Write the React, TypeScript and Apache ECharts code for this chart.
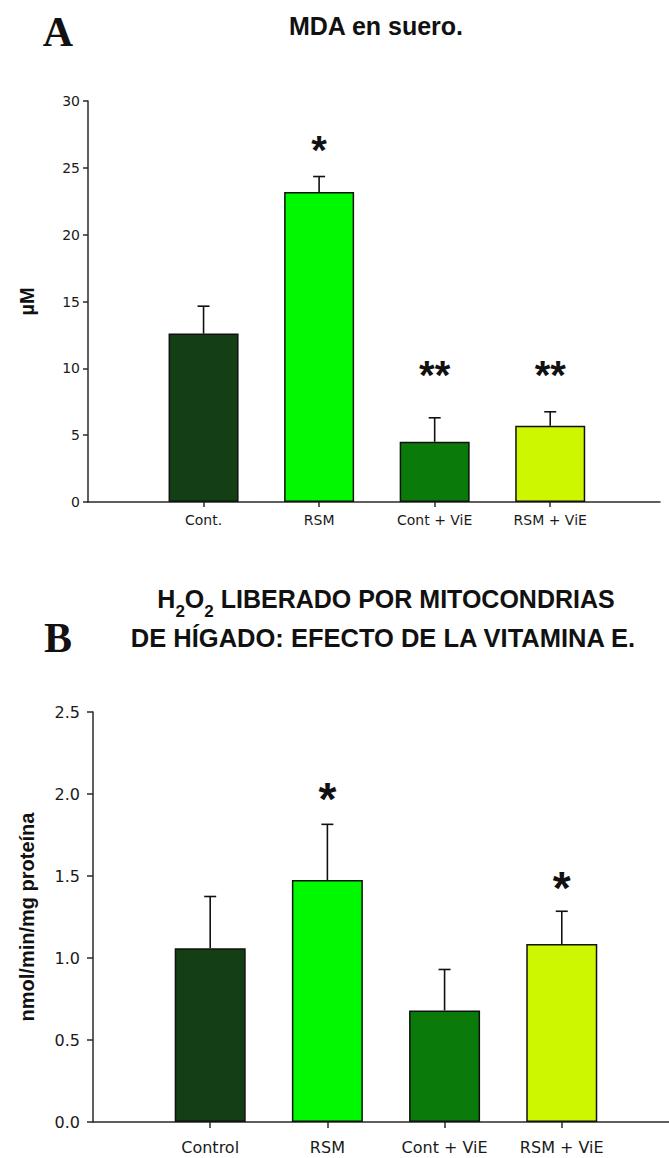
import React, { useEffect, useRef } from "react";
import * as echarts from "echarts";

// Panel A: MDA en suero (µM)
const catsA = ["Cont.", "RSM", "Cont + ViE", "RSM + ViE"];
const meanA = [12.6, 23.2, 4.5, 5.7];
const semA = [2.05, 1.15, 1.8, 1.05];
const starTextA = ["", "*", "**", "**"];
const starYA = [null, 26.7, 9.8, 9.8];
const ticksA = [0, 5, 10, 15, 20, 25, 30];

// Panel B: H2O2 liberado por mitocondrias de hígado
const catsB = ["Control", "RSM", "Cont + ViE", "RSM + ViE"];
const meanB = [1.06, 1.475, 0.68, 1.085];
const semB = [0.315, 0.34, 0.25, 0.2];
const starTextB = ["", "*", "", "*"];
const starYB = [null, 2.0, null, 1.46];
const ticksB = [0, 0.5, 1.0, 1.5, 2.0, 2.5];

const barColors = ["#143f14", "#00f800", "#0a7a0a", "#cdf700"];
const positions = [1, 2, 3, 4];

const labelFont = "DejaVu Sans";
const titleFont = "Liberation Sans, Arial, sans-serif";

function buildPanel(
  gridIndex: number,
  mean: number[],
  sem: number[],
  starText: string[],
  starY: (number | null)[],
  starSize: number
) {
  const bar = {
    type: "bar",
    xAxisIndex: gridIndex,
    yAxisIndex: gridIndex,
    barWidth: gridIndex === 0 ? 70 : 71,
    data: positions.map((p, i) => ({
      value: [p, mean[i]],
      itemStyle: { color: barColors[i], borderColor: "#111", borderWidth: 1.5 },
    })),
    z: 2,
  };
  const errors = {
    type: "custom",
    xAxisIndex: gridIndex,
    yAxisIndex: gridIndex,
    data: positions.map((p, i) => [p, mean[i], sem[i]]),
    z: 3,
    renderItem: (_params: any, api: any) => {
      const x = api.value(0);
      const v = api.value(1);
      const e = api.value(2);
      const p0 = api.coord([x, v]);
      const p1 = api.coord([x, v + e]);
      const st = { stroke: "#111", lineWidth: 1.6 };
      return {
        type: "group",
        children: [
          { type: "line", shape: { x1: p0[0], y1: p0[1], x2: p1[0], y2: p1[1] }, style: st },
          { type: "line", shape: { x1: p1[0] - 6, y1: p1[1], x2: p1[0] + 6, y2: p1[1] }, style: st },
        ],
      };
    },
  };
  const stars = {
    type: "custom",
    xAxisIndex: gridIndex,
    yAxisIndex: gridIndex,
    data: positions
      .map((p, i) => [p, starY[i], i])
      .filter((d) => d[1] !== null && starText[d[2] as number] !== ""),
    z: 4,
    renderItem: (_params: any, api: any) => {
      const pt = api.coord([api.value(0), api.value(1)]);
      const idx = api.value(2);
      return {
        type: "text",
        x: pt[0],
        y: pt[1] + starSize * 0.11,
        style: {
          text: starText[idx],
          fill: "#111",
          fontSize: starSize,
          fontWeight: "bold",
          fontFamily: titleFont,
          align: "center",
          verticalAlign: "middle",
          textAlign: "center",
          textVerticalAlign: "middle",
        },
      };
    },
  };
  return [bar, errors, stars];
}

export default function App() {
  const ref = useRef<HTMLDivElement>(null);

  useEffect(() => {
    if (!ref.current) return;
    const chart = echarts.init(ref.current, null, { renderer: "svg" });

    const axisLine = { show: true, lineStyle: { color: "#2a2a2a", width: 1.5 } };
    const axisTick = (len: number) => ({
      show: true,
      length: len,
      inside: false,
      lineStyle: { color: "#2a2a2a", width: 1.5 },
    });

    const option: any = {
      animation: false,
      backgroundColor: "#ffffff",
      grid: [
        { left: 88, top: 101, width: 572, height: 401 },
        { left: 93, top: 712, width: 576, height: 410 },
      ],
      xAxis: [
        {
          gridIndex: 0,
          type: "value",
          min: 0,
          max: 4.95,
          splitLine: { show: false },
          axisLine,
          axisTick: { ...axisTick(5), customValues: positions },
          axisLabel: {
            customValues: positions,
            formatter: (v: number) => catsA[Math.round(v) - 1] ?? "",
            margin: 11,
            fontSize: 14,
            fontFamily: labelFont,
            color: "#1a1a1a",
          },
        },
        {
          gridIndex: 1,
          type: "value",
          min: 0,
          max: 4.915,
          splitLine: { show: false },
          axisLine,
          axisTick: { ...axisTick(6), customValues: positions },
          axisLabel: {
            customValues: positions,
            formatter: (v: number) => catsB[Math.round(v) - 1] ?? "",
            margin: 17,
            fontSize: 16,
            fontFamily: labelFont,
            color: "#1a1a1a",
          },
        },
      ],
      yAxis: [
        {
          gridIndex: 0,
          type: "value",
          min: ticksA[0],
          max: ticksA[ticksA.length - 1],
          interval: 5,
          splitLine: { show: false },
          axisLine,
          axisTick: axisTick(5),
          axisLabel: { margin: 8, fontSize: 14, fontFamily: labelFont, color: "#1a1a1a" },
          name: "µM",
          nameLocation: "middle",
          nameGap: 51,
          nameTextStyle: { fontSize: 20, fontWeight: "bold", fontFamily: titleFont, color: "#111" },
        },
        {
          gridIndex: 1,
          type: "value",
          min: ticksB[0],
          max: ticksB[ticksB.length - 1],
          interval: 0.5,
          splitLine: { show: false },
          axisLine,
          axisTick: axisTick(6),
          axisLabel: {
            margin: 13,
            fontSize: 16,
            fontFamily: labelFont,
            color: "#1a1a1a",
            formatter: (v: number) => v.toFixed(1),
          },
          name: "nmol/min/mg proteína",
          nameLocation: "middle",
          nameGap: 56,
          nameTextStyle: { fontSize: 20, fontWeight: "bold", fontFamily: titleFont, color: "#111" },
        },
      ],
      graphic: [
        {
          type: "text",
          x: 58,
          y: 32,
          style: {
            text: "A",
            fontSize: 42,
            fontWeight: "bold",
            fontFamily: "Liberation Serif, Times New Roman, serif",
            fill: "#111",
            align: "center",
            verticalAlign: "middle",
            textAlign: "center",
            textVerticalAlign: "middle",
          },
        },
        {
          type: "text",
          x: 376,
          y: 26,
          style: {
            text: "MDA en suero.",
            fontSize: 25,
            fontWeight: "bold",
            fontFamily: titleFont,
            fill: "#111",
            align: "center",
            verticalAlign: "middle",
            textAlign: "center",
            textVerticalAlign: "middle",
          },
        },
        {
          type: "text",
          x: 58,
          y: 638,
          style: {
            text: "B",
            fontSize: 42,
            fontWeight: "bold",
            fontFamily: "Liberation Serif, Times New Roman, serif",
            fill: "#111",
            align: "center",
            verticalAlign: "middle",
            textAlign: "center",
            textVerticalAlign: "middle",
          },
        },
        {
          type: "text",
          x: 386,
          y: 586,
          style: {
            text: "{m|H}{s|2}{m|O}{s|2}{m| LIBERADO POR MITOCONDRIAS}",
            fill: "#111",
            align: "center",
            verticalAlign: "top",
            textAlign: "center",
            textVerticalAlign: "top",
            rich: {
              m: {
                fontSize: 25,
                fontWeight: "bold",
                fontFamily: titleFont,
                fill: "#111",
                lineHeight: 26,
                verticalAlign: "top",
              },
              s: {
                fontSize: 17,
                fontWeight: "bold",
                fontFamily: titleFont,
                fill: "#111",
                lineHeight: 34,
                verticalAlign: "bottom",
              },
            },
          },
        },
        {
          type: "text",
          x: 383,
          y: 638,
          style: {
            text: "DE HÍGADO: EFECTO DE LA VITAMINA E.",
            fontSize: 25.5,
            fontWeight: "bold",
            fontFamily: titleFont,
            fill: "#111",
            align: "center",
            verticalAlign: "middle",
            textAlign: "center",
            textVerticalAlign: "middle",
          },
        },
      ],
      series: [
        ...buildPanel(0, meanA, semA, starTextA, starYA, 40),
        ...buildPanel(1, meanB, semB, starTextB, starYB, 46),
      ],
    };

    chart.setOption(option);
    return () => chart.dispose();
  }, []);

  return (
    <div
      ref={ref}
      style={{ position: "absolute", left: 0, top: 0, width: 669, height: 1158, background: "#fff" }}
    />
  );
}
